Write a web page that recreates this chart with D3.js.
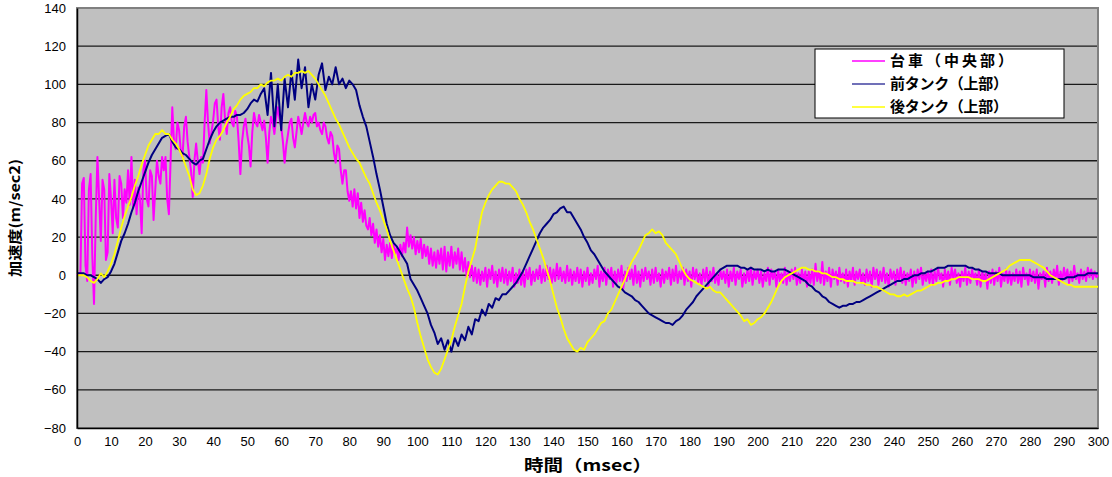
<!DOCTYPE html>
<html lang="ja">
<head>
<meta charset="UTF-8">
<title>加速度</title>
<script src="https://cdn.jsdelivr.net/npm/d3@7"></script>
<style>
  body { margin: 0; background: #fff; }
  text { font-family: 'Liberation Sans', Arial, sans-serif; }
  .jp { font-family: 'Noto Sans CJK JP', sans-serif; font-weight: bold; }
</style>
</head>
<body>
<script>
// 台車・前タンク・後タンクの加速度 (m/sec2)
const seriesNames = ["台車（中央部）", "前タンク（上部）", "後タンク（上部）"];
const seriesColors = ["#ff00ff", "#000080", "#ffff00"];
const xTicks = [0,10,20,30,40,50,60,70,80,90,100,110,120,130,140,150,160,170,180,190,200,210,220,230,240,250,260,270,280,290,300];
const yTicks = [-80,-60,-40,-20,0,20,40,60,80,100,120,140];
const seriesStepMs = [0.5, 1, 1];

// 台車: 0.5msec刻み (1行 = 10msec)
const daisha = [
  0,
  1,0,48,51,5,-3,45,53,10,-15, 30,62,40,18,50,45,8,12,53,40,
  22,50,30,25,52,48,30,45,38,55, 37,62,35,50,32,46,40,22,55,60,
  40,36,55,52,29,45,60,52,48,62, 55,62,40,32,60,88,70,66,80,76,
  65,62,78,83,70,62,55,41,60,69, 60,53,62,59,80,97,80,69,75,81,
  90,92,78,71,88,95,82,74,85,88, 80,78,86,83,70,53,70,78,82,74,
  68,57,75,85,80,78,84,80,76,81, 72,59,75,83,80,74,82,88,82,78,
  70,59,68,74,80,82,72,67,75,83, 79,74,80,85,80,78,83,80,84,85,
  78,80,76,74,80,78,72,69,75,73, 64,59,68,66,55,48,55,55,44,39,
  44,36,45,35,43,30,38,28,34,26, 24,30,21,27,17,24,15,21,12,19,
  8,16,10,17,9,16,11,15,8,16, 10,17,12,25,15,21,14,20,11,18,
  12,19,9,16,10,15,6,14,5,12, 4,13,6,14,3,15,2,12,5,15,
  4,12,6,14,3,12,2,9,-1,7, -1,5,-3,4,-4,3,-5,2,-3,4,
  -6,3,-2,5,-4,2,-6,3,-3,4, -4,3,-5,2,-3,4,-6,1,-4,3,
  -5,2,-6,3,-2,4,-5,2,-3,3, -2,5,-4,3,-3,5,-2,4,-4,3,
  -3,6,-2,4,-3,2,-4,5,-3,3, -5,2,-3,4,-4,3,-6,2,-3,4,
  -5,1,-4,3,-2,5,-6,2,-3,4, -5,3,-2,4,-6,2,-4,3,-3,5,
  -7,2,-3,4,-2,3,-5,5,-4,2, -6,3,-3,4,-2,2,-5,3,-4,4,
  -3,1,-6,3,-4,2,-2,4,-5,3, -3,5,-4,2,-2,4,-5,3,-3,2,
  -6,4,-2,3,-4,1,-5,3,-3,4, -6,2,-3,4,-4,1,-5,3,-2,2,
  -4,3,-6,2,-3,4,-5,2,-2,3, -6,1,-4,3,-3,4,-5,2,-2,3,
  -4,2,-6,1,-3,4,-5,3,-2,2, -6,3,-3,1,-4,4,-5,2,-3,3,
  -2,4,-5,1,-4,3,-3,2,-6,2, -4,3,-5,6,-3,2,-4,7,-5,2,
  -3,4,-6,3,-2,2,-5,4,-3,1, -4,3,-6,2,-3,4,-5,2,-2,3,
  -4,1,-5,3,-3,2,-6,4,-2,3, -5,2,-3,4,-4,1,-6,3,-2,2,
  -5,3,-3,4,-4,2,-5,1,-3,3, -6,2,-4,3,-2,4,-5,1,-3,2,
  -4,3,-5,2,-3,4,-2,1,-6,3, -3,2,-5,4,-2,3,-4,1,-6,2,
  -3,4,-5,2,-4,3,-2,1,-5,3, -6,2,-3,1,-7,2,-4,3,-5,2,
  -3,4,-6,1,-3,3,-4,2,-5,1, -3,3,-4,2,-6,4,-2,1,-5,3,
  -3,2,-4,3,-7,1,-2,2,-6,4, -3,2,-4,3,-2,5,-5,2,-3,4,
  -2,3,-4,2,-3,5,-2,1,-4,3, -2,2,-3,4,-1,3,-2,2,-1,0
];

// 前タンク: 1msec刻み
const maeTank = [
  1,1,1,0,0,-1,-2,-4,-2,-1, 2,6,12,18,22,27,33,38,44,49,
  54,59,63,66,69,72,73,74,70,67, 66,64,63,61,59,58,60,61,66,71,
  75,78,80,81,82,83,83,84,84,85, 87,90,92,91,95,98,84,106,78,100,
  76,103,88,107,92,113,98,109,88,100, 92,105,111,97,104,100,109,100,103,98,
  102,100,97,89,83,78,70,62,53,45, 36,27,21,17,15,12,9,6,-2,-5,
  -8,-12,-16,-20,-26,-30,-36,-33,-39,-34, -40,-33,-37,-31,-34,-27,-31,-23,-24,-18,
  -21,-15,-17,-12,-13,-10,-10,-8,-6,-4, -1,2,6,10,14,18,22,25,27,29,
  32,33,35,36,33,33,30,27,24,20, 17,13,11,8,5,2,0,-2,-4,-6,
  -7,-9,-10,-11,-13,-14,-16,-18,-20,-21, -22,-23,-24,-25,-25,-26,-24,-23,-21,-18,
  -16,-14,-11,-9,-7,-5,-3,-1,1,3, 4,5,5,5,5,4,4,3,4,3,
  3,3,2,3,2,2,3,3,3,2, 1,0,-1,-2,-3,-5,-6,-8,-9,-11,
  -12,-14,-15,-16,-17,-16,-16,-15,-15,-14, -14,-13,-12,-11,-10,-9,-8,-7,-6,-5,
  -4,-3,-3,-2,-2,-1,0,0,1,1, 2,2,3,4,4,4,5,5,5,5,
  5,5,4,4,3,3,2,2,1,1, 1,1,0,0,0,0,0,0,0,0,
  0,-1,-1,-1,-1,-2,-2,-2,-2,-2, -2,-1,-1,-1,0,0,0,1,1,1,
  1
];

// 後タンク: 1msec刻み
const ushiroTank = [
  0,0,0,-1,-3,-4,-2,1,-1,2, 6,11,18,25,31,36,41,47,52,58,
  63,68,71,74,74,76,74,74,71,69, 66,62,57,52,45,42,43,47,53,61,
  67,71,73,76,80,83,87,89,92,94, 95,96,98,98,100,99,101,102,102,103,
  102,104,105,104,106,106,107,106,107,105, 103,100,97,94,90,86,82,79,75,71,
  67,64,61,59,55,51,48,43,38,34, 29,24,18,13,8,3,-2,-7,-11,-17,
  -25,-32,-38,-44,-48,-51,-52,-49,-44,-39, -34,-27,-21,-15,-6,2,8,14,24,33,
  38,42,45,47,49,49,48,48,46,44, 40,37,33,28,24,19,14,9,3,-3,
  -10,-17,-22,-28,-33,-36,-39,-40,-38,-39, -35,-33,-31,-28,-25,-24,-20,-18,-14,-10,
  -6,-2,3,7,10,13,17,21,22,24, 22,23,21,17,15,13,11,7,3,0,
  -2,-3,-4,-5,-6,-7,-6,-8,-9,-9, -11,-13,-15,-17,-19,-21,-24,-23,-26,-25,
  -23,-22,-20,-17,-14,-10,-6,-3,-1,0, 1,2,3,4,4,3,3,2,2,1,
  1,0,-1,-1,-2,-2,-3,-3,-3,-4, -4,-4,-5,-5,-6,-6,-7,-8,-9,-10,
  -10,-11,-11,-10,-11,-10,-9,-8,-8,-7, -6,-5,-5,-4,-4,-3,-3,-2,-2,-1,
  -1,-1,-1,-2,-2,-2,-3,-3,-2,-1, 0,1,2,3,5,6,7,8,8,8,
  8,7,6,5,4,2,0,-1,-2,-3, -4,-5,-5,-6,-6,-6,-6,-6,-6,-6,
  -6
];

const series = [daisha, maeTank, ushiroTank];

const W = 1112, H = 477;
const plot = {left: 77, right: 1098, top: 8, bottom: 428};

const svg = d3.select("body").append("svg").attr("width", W).attr("height", H);

const x = d3.scaleLinear().domain([0, 300]).range([plot.left, plot.right]);
const y = d3.scaleLinear().domain([-80, 140]).range([plot.bottom, plot.top]);

// plot area background
svg.append("rect")
    .attr("x", plot.left).attr("y", plot.top)
    .attr("width", plot.right - plot.left).attr("height", plot.bottom - plot.top)
    .attr("fill", "#c0c0c0");

// gridlines
svg.append("g").selectAll("line")
    .data(yTicks.filter(d => d > -80 && d < 140))
    .join("line")
    .attr("x1", plot.left).attr("x2", plot.right)
    .attr("y1", d => y(d)).attr("y2", d => y(d))
    .attr("stroke", "#1a1a1a").attr("stroke-width", 1.3);

// frame
svg.append("rect")
    .attr("x", plot.left).attr("y", plot.top)
    .attr("width", plot.right - plot.left).attr("height", plot.bottom - plot.top)
    .attr("fill", "none").attr("stroke", "#808080").attr("stroke-width", 2);

// series lines
const widths = [2, 2, 1.8];
series.forEach((s, k) => {
    const line = d3.line()
        .x((d, i) => x(i * seriesStepMs[k]))
        .y(d => y(d));
    svg.append("path")
        .datum(s)
        .attr("d", line)
        .attr("fill", "none")
        .attr("stroke", seriesColors[k])
        .attr("stroke-width", widths[k])
        .attr("stroke-linejoin", "round");
});

// axes
const xAxis = d3.axisBottom(x).tickValues(xTicks).tickSize(0).tickPadding(9);
svg.append("g")
    .attr("transform", `translate(0,${plot.bottom})`)
    .call(xAxis)
    .call(g => g.select(".domain").attr("stroke", "#000").attr("stroke-width", 1.5))
    .selectAll("text").attr("font-size", 13).attr("font-family", "'Liberation Sans', Arial, sans-serif").attr("fill", "#000");

const yAxis = d3.axisLeft(y).tickValues(yTicks).tickSize(0).tickPadding(11);
svg.append("g")
    .attr("transform", `translate(${plot.left},0)`)
    .call(yAxis)
    .call(g => g.select(".domain").attr("stroke", "#000").attr("stroke-width", 1.5))
    .selectAll("text").attr("font-size", 13).attr("font-family", "'Liberation Sans', Arial, sans-serif").attr("fill", "#000");

// axis titles
svg.append("text")
    .attr("class", "jp")
    .attr("x", 588).attr("y", 471)
    .attr("text-anchor", "middle")
    .attr("font-size", 16)
    .attr("textLength", 128).attr("lengthAdjust", "spacingAndGlyphs")
    .text("時間（msec）");

svg.append("text")
    .attr("class", "jp")
    .attr("transform", "translate(20,218) rotate(-90)")
    .attr("text-anchor", "middle")
    .attr("font-size", 14)
    .attr("textLength", 118).attr("lengthAdjust", "spacingAndGlyphs")
    .text("加速度(m/sec2)");

// legend
const legend = svg.append("g");
legend.append("rect")
    .attr("x", 815).attr("y", 49).attr("width", 249).attr("height", 69)
    .attr("fill", "#fff").attr("stroke", "#000").attr("stroke-width", 1);

const legendW = [123, 118, 118];
seriesNames.forEach((name, k) => {
    const ly = 61 + k * 23;
    legend.append("line")
        .attr("x1", 852).attr("x2", 885)
        .attr("y1", ly).attr("y2", ly)
        .attr("stroke", seriesColors[k] === "#000080" ? "#4040a0" : seriesColors[k])
        .attr("stroke-width", 1.5);
    legend.append("text")
        .attr("class", "jp")
        .attr("x", 890).attr("y", ly + 5)
        .attr("font-size", 15)
        .attr("textLength", legendW[k]).attr("lengthAdjust", "spacing")
        .text(name);
});
</script>
</body>
</html>
